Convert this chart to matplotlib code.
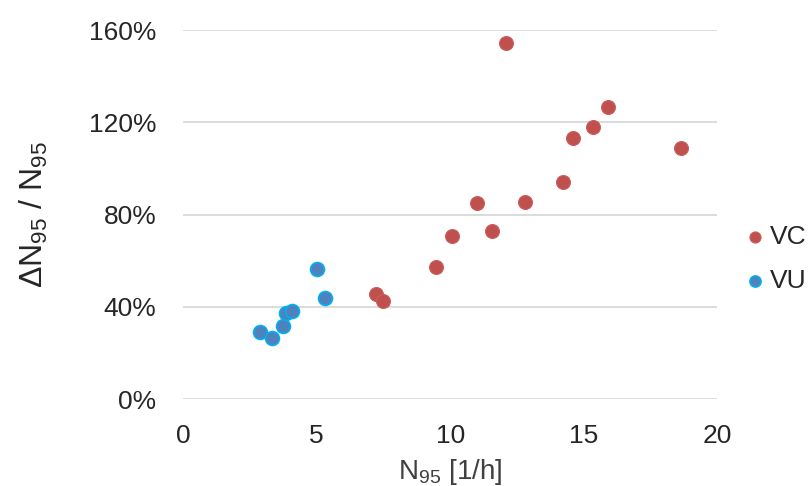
import numpy as np
import matplotlib
matplotlib.use('Agg')
import matplotlib.pyplot as plt
from matplotlib.ticker import PercentFormatter

# VC series
vc_x = [7.21, 7.48, 9.46, 10.06, 10.99, 11.55, 12.07, 12.79, 14.24, 14.58, 15.33, 15.89, 18.65]
vc_y = [45.5, 42.5, 57.2, 70.7, 85.0, 72.9, 154.4, 85.4, 94.1, 113.2, 118.0, 126.6, 108.8]
# VU series
vu_x = [2.88, 3.32, 3.76, 3.87, 4.07, 5.00, 5.30]
vu_y = [29.2, 26.6, 31.5, 37.2, 38.0, 56.4, 43.9]

x_ticks = [0, 5, 10, 15, 20]
y_ticks = [0, 40, 80, 120, 160]

plt.rcParams['font.family'] = ['Liberation Sans', 'DejaVu Sans']
plt.rcParams['mathtext.fontset'] = 'custom'
plt.rcParams['mathtext.rm'] = 'Liberation Sans'
plt.rcParams['mathtext.it'] = 'Liberation Sans'
plt.rcParams['mathtext.default'] = 'rm'

txt = '#262626'
fig = plt.figure(figsize=(8.11, 4.86), dpi=100)
ax = fig.add_axes([0.2256, 0.179, 0.659, 0.759])

ax.scatter(vc_x, vc_y, s=100, color='#C0504D', edgecolors='#CB5F5C', linewidths=0.8, label='VC', zorder=3)
ax.scatter(vu_x, vu_y, s=100, color='#4F81BD', edgecolors='#00B0F0', linewidths=1.2, label='VU', zorder=3)

ax.set_xlim(0, 20)
ax.set_ylim(0, 160)
ax.set_xticks(x_ticks)
ax.set_yticks(y_ticks)
ax.yaxis.set_major_formatter(PercentFormatter(decimals=0))
ax.grid(axis='y', color='#D9D9D9', linewidth=1.3)
ax.set_axisbelow(True)
for s in ax.spines.values():
    s.set_visible(False)
ax.tick_params(length=0, labelsize=19, colors=txt)
ax.tick_params(axis='y', pad=19)
ax.tick_params(axis='x', pad=18)

ax.set_xlabel('N$_{95}$ [1/h]', fontsize=20, color='#404040')
ax.xaxis.set_label_coords(0.5, -0.158)
ax.set_ylabel('ΔN$_{95}$ / N$_{95}$', fontsize=23, color=txt)
ax.yaxis.set_label_coords(-0.249, 0.5)

leg = fig.legend(*ax.get_legend_handles_labels(), loc='center left',
                 bbox_to_anchor=(747 / 811, 1 - 259 / 486), frameon=False,
                 fontsize=19, handlelength=0.6, handletextpad=0.27, labelspacing=0.78,
                 markerscale=0.8, borderpad=0, borderaxespad=0)
for t in leg.get_texts():
    t.set_color(txt)

fig.savefig('out.png', dpi=100)
